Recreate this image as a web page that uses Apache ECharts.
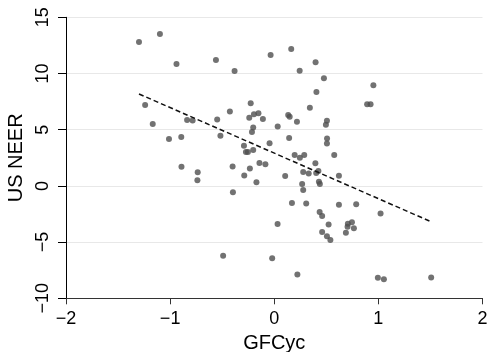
<!DOCTYPE html>
<html>
<head>
<meta charset="utf-8">
<script src="https://cdn.jsdelivr.net/npm/echarts@6/dist/echarts.min.js"></script>
<style>html,body{margin:0;padding:0;background:#fff}#c{width:489px;height:352px}</style>
</head>
<body>
<div id="c"></div>
<script>
const gfcyc = [-1.299,-1.098,-0.939,-0.560,-0.381,-1.240,-1.167,-1.011,-0.893,-0.837,-0.784,-0.548,-0.426,-0.517,-0.291,-0.272,-0.253,-0.202,-0.226,-0.240,-0.195,-0.152,-0.109,-0.202,-0.214,-0.045,0.033,0.134,0.148,0.218,0.143,-0.035,0.163,0.397,0.244,0.477,0.405,0.342,0.506,0.496,0.507,0.506,0.576,0.196,0.246,0.288,0.952,0.892,0.925,-0.891,-0.735,-0.738,-0.400,-0.288,-0.397,-0.491,-0.142,-0.085,-0.234,-0.171,0.105,0.395,0.278,0.331,0.403,0.424,0.429,0.438,0.268,0.278,0.621,0.170,0.307,0.621,0.787,0.436,0.460,0.032,0.522,0.460,0.506,0.539,0.707,0.746,0.704,0.765,0.688,-0.020,0.222,1.021,0.995,1.053,1.507];
const usneer = [12.80,13.51,10.85,11.20,10.22,7.20,5.51,4.17,4.35,5.86,5.82,5.91,6.62,4.47,3.58,3.02,3.02,3.19,7.35,6.06,6.38,6.47,5.95,5.20,4.80,3.80,5.28,6.31,6.16,5.71,4.26,11.65,12.18,11.00,10.25,9.58,8.35,6.95,5.79,5.44,4.22,3.77,2.75,2.75,2.51,2.75,8.95,7.26,7.26,1.71,1.21,0.50,1.73,0.93,-0.57,-6.21,2.04,1.92,1.55,0.33,0.88,2.02,1.24,1.10,1.15,1.33,0.37,0.17,0.17,-0.37,0.91,-1.52,-1.57,-1.67,-1.64,-2.32,-2.68,-3.39,-3.43,-4.10,-4.48,-4.81,-3.36,-3.24,-3.63,-3.77,-4.16,-6.43,-7.88,-2.46,-8.17,-8.31,-8.15];
const fitX = [-1.299, 1.507];
const fitY = [8.18, -3.19];
const xTicks = [-2, -1, 0, 1, 2];
const yTicks = [-10, -5, 0, 5, 10, 15];

const points = gfcyc.map((x, i) => [x, usneer[i]]);
const fitLine = fitX.map((x, i) => [x, fitY[i]]);
const fmt = v => String(v).replace('-', '\u2212');
const font = 'Liberation Sans, Arial, Helvetica, sans-serif';

const chart = echarts.init(document.getElementById('c'), null, {renderer: 'canvas'});
chart.setOption({
  animation: false,
  backgroundColor: '#fff',
  grid: {left: 66, right: 6.5, top: 17.3, bottom: 53.7, containLabel: false, outerBoundsMode: 'none'},
  xAxis: {
    type: 'value', min: xTicks[0], max: xTicks[xTicks.length - 1], interval: 1,
    name: 'GFCyc', nameLocation: 'middle', nameGap: 30,
    nameTextStyle: {fontFamily: font, fontSize: 20, color: '#000'},
    axisLine: {show: true, onZero: false, lineStyle: {color: '#333', width: 1}},
    axisTick: {show: true, length: 6, lineStyle: {color: '#333'}},
    axisLabel: {fontFamily: font, fontSize: 18, color: '#000', margin: 12, formatter: fmt},
    splitLine: {show: false}
  },
  yAxis: {
    type: 'value', min: yTicks[0], max: yTicks[yTicks.length - 1], interval: 5,
    name: 'US NEER', nameLocation: 'middle', nameGap: 35, nameRotate: 90,
    nameTextStyle: {fontFamily: font, fontSize: 20, color: '#000'},
    axisLine: {show: true, onZero: false, lineStyle: {color: '#000', width: 1}},
    axisTick: {show: true, length: 8, lineStyle: {color: '#000'}},
    axisLabel: {fontFamily: font, fontSize: 18, color: '#000', margin: 14, rotate: 90, formatter: fmt},
    splitLine: {show: true, lineStyle: {color: '#e8e8e8', width: 1}}
  },
  series: [
    {
      type: 'scatter', data: points, symbol: 'circle', symbolSize: 6,
      itemStyle: {color: '#4f4f4f'}, z: 2
    },
    {
      type: 'line', data: fitLine, symbol: 'none', z: 3,
      lineStyle: {color: '#111', width: 1.5, type: [5, 3]}
    }
  ]
});
</script>
</body>
</html>
